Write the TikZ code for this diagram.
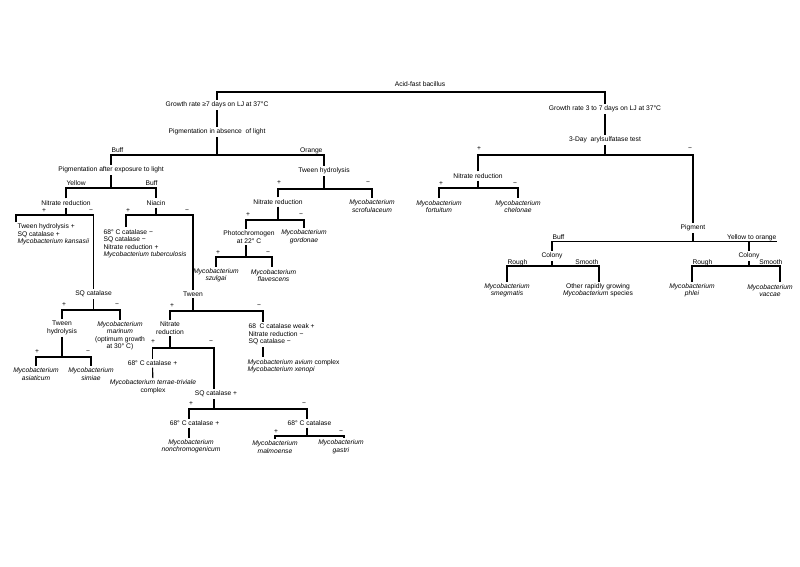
\documentclass[tikz,border=0pt]{standalone}
\usepackage{fontspec}
\setmainfont{Liberation Sans}
\usepackage{tikz}
\tikzstyle{key}=[
  x=1pt,y=-1pt,line width=1.1pt,font=\fontsize{6.7}{7.5}\selectfont
]
\tikzstyle{test}=[
  inner sep=1.5pt,align=center
]
\tikzstyle{block}=[
  inner sep=1.5pt,align=left,anchor=north west
]
\tikzstyle{sign}=[
  inner sep=0pt
]
\tikzstyle{branch}=[
  inner sep=0pt
]

\begin{document}
\begin{tikzpicture}[key]
    \useasboundingbox (0,0) rectangle (800,566);
    % root
    \node[test] (afb) at (420,84) {Acid-fast bacillus};
    \node[test] (slow) at (217,105) {Growth rate ≥7 days on LJ at 37°C};
    \node[test] (rapid) at (605,109) {Growth rate 3 to 7 days on LJ at 37°C};
    \coordinate (t1) at (217,92);
    \coordinate (t2) at (605,92);
    \draw (slow) -- (t1) -- (t2) -- (rapid);

    % slow growers
    \node[test] (pabs) at (217,132) {Pigmentation in absence\ \ of light};
    \node[test] (pexp) at (111,170) {Pigmentation after exposure to light};
    \node[test] (tw1) at (324,171) {Tween hydrolysis};
    \node[branch,anchor=base west] (buff1) at (111,152.5) {Buff};
    \node[branch,anchor=base east] (orng) at (323,152.5) {Orange};
    \coordinate (s1) at (111,155);
    \coordinate (s2) at (324,155);
    \draw (slow) -- (pabs);
    \draw (pabs) -- (pabs |- s1);
    \draw (pexp) -- (s1) -- (s2) -- (tw1);

    % exposure to light
    \node[branch,anchor=base west] (yel) at (66,185.5) {Yellow};
    \node[branch,anchor=base east] (buff2) at (158,185.5) {Buff};
    \node[test] (nr1) at (66,203) {Nitrate reduction};
    \node[test] (nia) at (156,203) {Niacin};
    \coordinate (e1) at (66,188);
    \coordinate (e2) at (156,188);
    \draw (pexp) -- (pexp |- e1);
    \draw (nr1) -- (e1) -- (e2) -- (nia);

    % nitrate reduction, yellow
    \node[block] (kans) at (15.5,222) {Tween hydrolysis +\\SQ catalase +\\\textit{Mycobacterium kansasii}};
    \node[test] (sq1) at (93.5,294) {SQ catalase};
    \node[sign] (n1p) at (44,211) {+};
    \node[sign] (n1m) at (91,211) {−};
    \coordinate (n1a) at (16,215);
    \coordinate (n1b) at (93.5,215);
    \draw (nr1) -- (nr1 |- n1a);
    \draw (kans.north -| n1a) -- (n1a) -- (n1b) -- (sq1);

    % niacin
    \node[block] (tb) at (101.5,227.2) {68° C catalase −\\SQ catalase −\\Nitrate reduction +\\\textit{Mycobacterium tuberculosis}};
    \node[test] (tw2) at (193,294) {Tween};
    \node[sign] (n2p) at (128,211) {+};
    \node[sign] (n2m) at (187,211) {−};
    \coordinate (n2a) at (126,215);
    \coordinate (n2b) at (193,215);
    \draw (nia) -- (nia |- n2a);
    \draw (tb.north -| n2a) -- (n2a) -- (n2b) -- (tw2);

    % SQ catalase
    \node[test] (tw3) at (62,328) {Tween\\hydrolysis};
    \node[test] (mar) at (120,336) {\textit{Mycobacterium}\\\textit{marinum}\\(optimum growth\\at 30° C)};
    \node[sign] (q1p) at (64,305) {+};
    \node[sign] (q1m) at (117,305) {−};
    \coordinate (q1a) at (62,310);
    \coordinate (q1b) at (120,310);
    \draw (sq1) -- (sq1 |- q1a);
    \draw (tw3) -- (q1a) -- (q1b) -- (mar);

    \node[test] (asi) at (36,374) {\textit{Mycobacterium}\\\textit{asiaticum}};
    \node[test] (sim) at (91,374) {\textit{Mycobacterium}\\\textit{simiae}};
    \node[sign] (t3p) at (37,352) {+};
    \node[sign] (t3m) at (88,352) {−};
    \coordinate (t3a) at (36,357);
    \coordinate (t3b) at (91,357);
    \draw (tw3) -- (tw3 |- t3a);
    \draw (asi) -- (t3a) -- (t3b) -- (sim);

    % Tween
    \node[test] (nr2) at (170,328) {Nitrate\\reduction};
    \node[block] (avw) at (246.5,322) {68\ \ C catalase weak +\\Nitrate reduction −\\SQ catalase −};
    \node[block] (avx) at (245.5,357.2) {\textit{Mycobacterium avium} complex\\\textit{Mycobacterium xenopi}};
    \node[sign] (w2p) at (172,306) {+};
    \node[sign] (w2m) at (259,306) {−};
    \coordinate (w2a) at (170,311);
    \coordinate (w2b) at (263,311);
    \draw (tw2) -- (tw2 |- w2a);
    \draw (nr2) -- (w2a) -- (w2b) -- (avw.north -| w2b);
    \draw (avw.south -| w2b) -- (avx.north -| w2b);

    % nitrate reduction, Tween
    \node[test] (c68a) at (152.5,363) {68° C catalase +};
    \node[test] (ter) at (153,387) {\textit{Mycobacterium terrae-triviale}\\complex};
    \node[test] (sq2) at (216,394) {SQ catalase +};
    \node[sign] (r2p) at (153,342) {+};
    \node[sign] (r2m) at (211,342) {−};
    \coordinate (r2a) at (152.5,348);
    \coordinate (r2b) at (214,348);
    \draw (nr2) -- (nr2 |- r2a);
    \draw (c68a) -- (r2a) -- (r2b) -- (r2b |- sq2.north);
    \draw (c68a) -- (ter);

    % SQ catalase +
    \node[test] (c68b) at (194.5,423) {68° C catalase +};
    \node[test] (nch) at (191,446.5) {\textit{Mycobacterium}\\\textit{nonchromogenicum}};
    \node[test] (c68c) at (309.5,423) {68° C catalase};
    \node[sign] (q2p) at (191,404) {+};
    \node[sign] (q2m) at (304,404) {−};
    \coordinate (q2a) at (189,409);
    \coordinate (q2b) at (307,409);
    \coordinate (q2c) at (214,409);
    \draw (sq2.south -| q2c) -- (q2c);
    \draw (c68b.north -| q2a) -- (q2a) -- (q2b) -- (q2b |- c68c.north);
    \draw (c68b.south -| q2a) -- (nch.north -| q2a);

    \node[test] (mal) at (275,447) {\textit{Mycobacterium}\\\textit{malmoense}};
    \node[test] (gas) at (341,447) {\textit{Mycobacterium}\\\textit{gastri}};
    \node[sign] (c3p) at (276,432) {+};
    \node[sign] (c3m) at (341,432) {−};
    \coordinate (c3a) at (275,436);
    \coordinate (c3b) at (344,436);
    \coordinate (c3c) at (307,436);
    \draw (c68c.south -| c3c) -- (c3c);
    \draw (mal) -- (c3a) -- (c3b) -- (c3b |- gas.north);

    % orange
    \node[test] (nr3) at (278,202) {Nitrate reduction};
    \node[test] (scr) at (372,206) {\textit{Mycobacterium}\\\textit{scrofulaceum}};
    \node[sign] (h1p) at (279,183) {+};
    \node[sign] (h1m) at (368,183) {−};
    \coordinate (h1a) at (278,189);
    \coordinate (h1b) at (372,189);
    \draw (tw1) -- (tw1 |- h1a);
    \draw (nr3) -- (h1a) -- (h1b) -- (scr);

    \node[test] (pho) at (249,237) {Photochromogen\\at 22° C};
    \node[test] (gor) at (304,237) {\textit{Mycobacterium}\\\textit{gordonae}};
    \node[sign] (h2p) at (248,215) {+};
    \node[sign] (h2m) at (301,215) {−};
    \coordinate (h2a) at (246,220);
    \coordinate (h2b) at (304,220);
    \draw (nr3) -- (nr3 |- h2a);
    \draw (pho.north -| h2a) -- (h2a) -- (h2b) -- (gor);

    \node[test] (szu) at (216,275.5) {\textit{Mycobacterium}\\\textit{szulgai}};
    \node[test] (fla) at (273.5,275.5) {\textit{Mycobacterium}\\\textit{flavescens}};
    \node[sign] (h3p) at (218,253) {+};
    \node[sign] (h3m) at (268,253) {−};
    \coordinate (h3a) at (216,257);
    \coordinate (h3b) at (272,257);
    \coordinate (h3c) at (246,257);
    \draw (pho.south -| h3c) -- (h3c);
    \draw (szu) -- (h3a) -- (h3b) -- (h3b |- fla.north);

    % rapid growers
    \node[test] (ars) at (605,140) {3-Day\ \ arylsulfatase test};
    \node[test] (nr4) at (478,176) {Nitrate reduction};
    \node[test] (pig) at (693,228) {Pigment};
    \node[sign] (a1p) at (479,149) {+};
    \node[sign] (a1m) at (690,149) {−};
    \coordinate (a1) at (478,155);
    \coordinate (a2) at (693,155);
    \draw (rapid) -- (ars);
    \draw (ars) -- (ars |- a1);
    \draw (nr4) -- (a1) -- (a2) -- (pig);

    \node[test] (for) at (439,206.5) {\textit{Mycobacterium}\\\textit{fortuitum}};
    \node[test] (che) at (518,206.5) {\textit{Mycobacterium}\\\textit{chelonae}};
    \node[sign] (f1p) at (441,184) {+};
    \node[sign] (f1m) at (515,184) {−};
    \coordinate (f1) at (439,188);
    \coordinate (f2) at (518,188);
    \draw (nr4) -- (nr4 |- f1);
    \draw (for) -- (f1) -- (f2) -- (che);

    % pigment
    \node[branch,anchor=base west] (buff3) at (552,239.5) {Buff};
    \node[branch,anchor=base east] (yto) at (777,239.5) {Yellow to orange};
    \node[test] (col1) at (552,256) {Colony};
    \node[test] (col2) at (749,256) {Colony};
    \coordinate (g1) at (552,241.5);
    \coordinate (g2) at (777,241.5);
    \draw (pig) -- (pig |- g1);
    \draw (col1) -- (g1) -- (g2);
    \draw (col2) -- (col2 |- g2);

    \node[branch,anchor=base west] (rgh1) at (507,264.5) {Rough};
    \node[branch,anchor=base east] (smo1) at (599,264.5) {Smooth};
    \node[test] (sme) at (507,290.5) {\textit{Mycobacterium}\\\textit{smegmatis}};
    \node[test] (oth) at (598,290.5) {Other rapidly growing\\\textit{Mycobacterium} species};
    \coordinate (k1) at (507,266);
    \coordinate (k2) at (599,266);
    \draw (col1) -- (col1 |- k1);
    \draw (sme) -- (k1) -- (k2) -- (oth.north -| k2);

    \node[branch,anchor=base west] (rgh2) at (692,264.5) {Rough};
    \node[branch,anchor=base east] (smo2) at (783,264.5) {Smooth};
    \node[test] (phl) at (692,290.5) {\textit{Mycobacterium}\\\textit{phlei}};
    \node[test] (vac) at (770,290.5) {\textit{Mycobacterium}\\\textit{vaccae}};
    \coordinate (k3) at (692,266);
    \coordinate (k4) at (780,266);
    \draw (col2) -- (col2 |- k3);
    \draw (phl) -- (k3) -- (k4) -- (vac.north -| k4);
\end{tikzpicture}
\end{document}
